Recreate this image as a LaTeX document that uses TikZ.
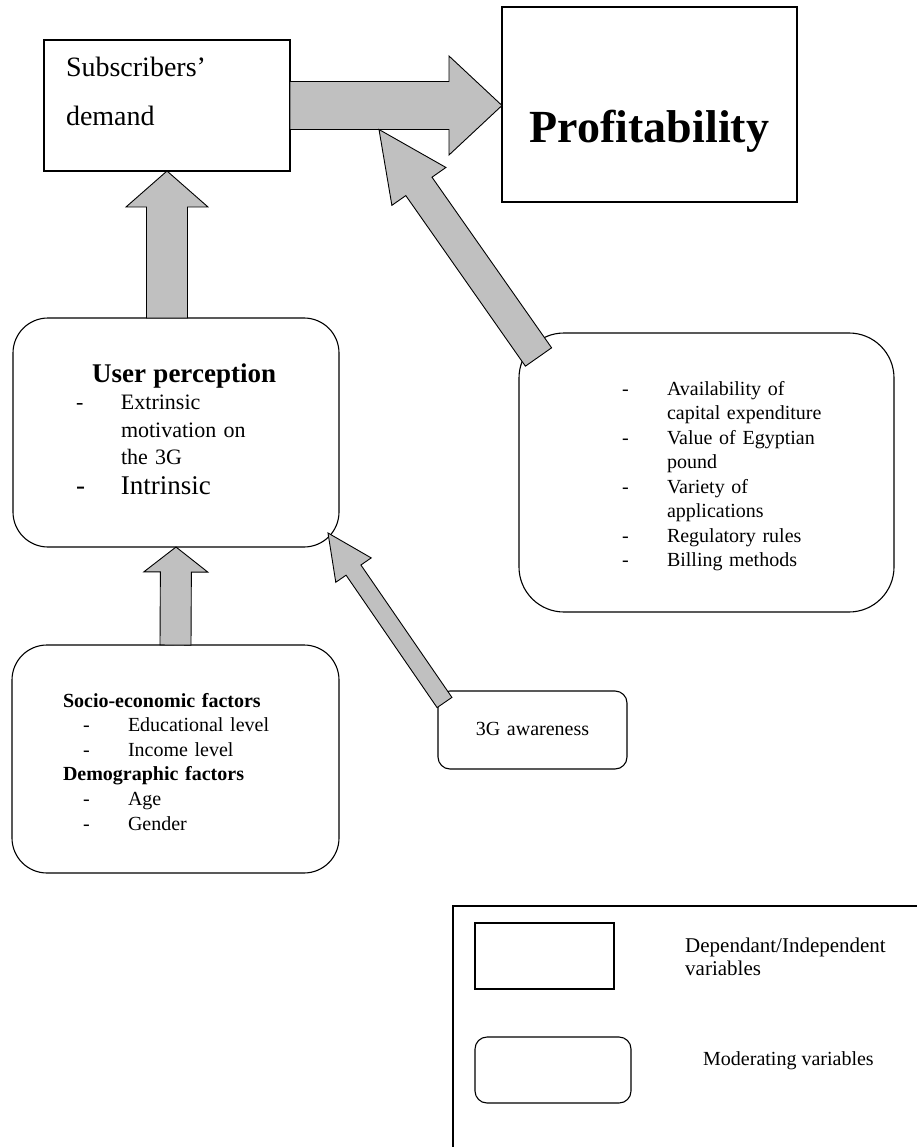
\documentclass[tikz,border=0pt]{standalone}
\usepackage{fontspec}
\setmainfont{Liberation Serif}
\usetikzlibrary{calc}

\definecolor{arrowgray}{RGB}{192,192,192}

\tikzstyle{block}=[draw, line width=1.1pt, outer sep=0pt, inner ysep=0pt, anchor=north west, align=left]
\tikzstyle{moderator}=[block, rounded corners=35pt]
\tikzstyle{fat}=[draw, line width=0.9pt, fill=arrowgray, line join=miter]

\newcommand{\dashitem}[2][0pt]{\hspace*{#1}\makebox[45pt][l]{-}#2}
\newcommand{\moreitem}[2][0pt]{\hspace*{#1}\hspace*{45pt}#2}

% block arrow: tail, tip, half shaft, half head, head length
\newcommand{\fatarrow}[5]{%
  \coordinate (fa-base) at ($(#2)!#5!(#1)$);
  \draw[fat] ($(#1)!#3!90:(#2)$) -- ($(fa-base)!#3!90:(#2)$)
    -- ($(fa-base)!#4!90:(#2)$) -- (#2) -- ($(fa-base)!#4!-90:(#2)$)
    -- ($(fa-base)!#3!-90:(#2)$) -- ($(#1)!#3!-90:(#2)$) -- cycle;}

\begin{document}
\begin{tikzpicture}[x=1pt,y=-1pt]
\useasboundingbox (0,0) rectangle (917,1147);
\draw(44,40) node[block, text width=202pt, inner xsep=22pt, text height=37pt, text depth=94pt,
  font=\fontsize{28}{48.5}\selectfont](subs){Subscribers’\\demand};
\draw(502,7) node[block, align=center, text width=275pt, inner xsep=10pt, text height=136pt,
  text depth=59pt, font=\fontsize{46}{50}\selectfont\bfseries](profit){Profitability};
%
\draw(13,318) node[moderator, text width=200pt, inner xsep=63pt, text height=64pt, text depth=165pt,
  font=\fontsize{22}{27.5}\selectfont](userp){\hspace*{\fill}{\fontsize{27}{27.5}\selectfont\bfseries User perception}\hspace*{\fill}\\
  \dashitem{Extrinsic}\\ \moreitem{motivation on}\\ \moreitem{the 3G}\\[2pt]
  {\fontsize{27}{27.5}\selectfont\dashitem{Intrinsic}}};
\draw(519,333) node[moderator, rounded corners=45pt, text width=255pt, inner xsep=60pt, text height=62pt,
  text depth=217pt, font=\fontsize{20}{24.5}\selectfont](ext){%
  \dashitem[43pt]{Availability of}\\ \moreitem[43pt]{capital expenditure}\\
  \dashitem[43pt]{Value of Egyptian}\\ \moreitem[43pt]{pound}\\
  \dashitem[43pt]{Variety of}\\ \moreitem[43pt]{applications}\\
  \dashitem[43pt]{Regulatory rules}\\ \dashitem[43pt]{Billing methods}};
\draw(12,645) node[moderator, text width=225pt, inner xsep=51pt, text height=62pt, text depth=166pt,
  font=\fontsize{20}{24.6}\selectfont](socio){\textbf{Socio-economic factors}\\
  \dashitem[20pt]{Educational level}\\ \dashitem[20pt]{Income level}\\
  \textbf{Demographic factors}\\
  \dashitem[20pt]{Age}\\ \dashitem[20pt]{Gender}};
\draw(438,691) node[block, rounded corners=12pt, align=center, text width=169pt, inner xsep=10pt,
  text height=44pt, text depth=34pt, font=\fontsize{20}{24}\selectfont](aware){3G awareness};
%
\coordinate (profit-in) at (profit.west |- subs.east);
\fatarrow{subs.east}{profit-in}{24pt}{49.5pt}{53pt}
\coordinate (subs-up) at (userp.north -| subs.south);
\fatarrow{subs-up}{subs.south}{20.5pt}{41pt}{36pt}
\fatarrow{socio.north}{userp.south}{15.5pt}{32pt}{25pt}
\coordinate (ext-tip) at ($(subs.east)+(89,24)$);
\coordinate (ext-tail) at ($(ext.north west)+(19.5,24)$);
\fatarrow{ext-tail}{ext-tip}{16pt}{33pt}{69.5pt}
\coordinate (aware-tip) at ($(userp.south east)+(-11,-14)$);
\coordinate (aware-tail) at ($(aware.north west)+(6.5,11.5)$);
\fatarrow{aware-tail}{aware-tip}{9pt}{21.5pt}{45pt}
%
% legend
\draw[line width=1.1pt] (917,906) -| (453,1147);
\draw(475,923) node[block, minimum width=139pt, minimum height=66pt, inner sep=0pt](keyrect){};
\draw(685,952) node[anchor=base west, inner sep=0pt, align=left, text width=220pt,
  font=\fontsize{21}{23}\selectfont](keyrect-text){Dependant/Independent\\variables};
\draw(475,1037) node[block, rounded corners=12pt, minimum width=156pt, minimum height=66pt,
  inner sep=0pt](keyround){};
\draw(703,1065) node[anchor=base west, inner sep=0pt, font=\fontsize{20}{24}\selectfont](keyround-text){Moderating variables};
\end{tikzpicture}
\end{document}
